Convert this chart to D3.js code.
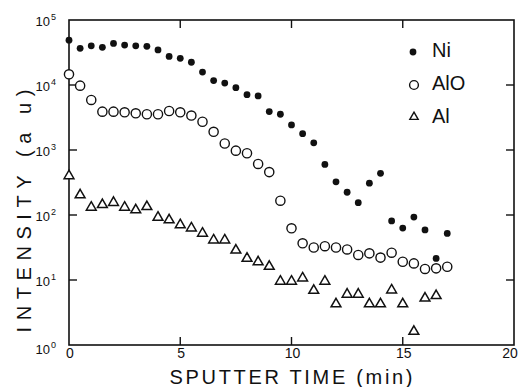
<!DOCTYPE html>
<html><head><meta charset="utf-8">
<script src="https://cdn.jsdelivr.net/npm/d3@7"></script>
<style>
html,body{margin:0;padding:0;background:#fff;}
svg{display:block;}
text{font-family:"Liberation Sans",Arial,sans-serif;fill:#111;}
</style></head>
<body><svg id="c" width="519" height="387"></svg>
<script>
const timesNi = [0,0.5,1,1.5,2,2.5,3,3.5,4,4.5,5,5.5,6,6.5,7,7.5,8,8.5,9,9.5,10,10.5,11,11.5,12,12.5,13,13.5,14,14.5,15,15.5,16,16.5,17];
const niValues = [49000,36700,40000,38000,43600,41200,40000,39400,34700,27500,25700,22400,15800,11700,10700,9100,7100,6800,3900,3550,2430,1780,1290,600,324,224,155,309,437,81,63,93,59,21.5,52];
const timesAlO = timesNi;
const aloValues = [14600,9770,5890,3890,3890,3800,3670,3550,3550,3980,3800,3390,2720,1905,1260,977,891,610,457,166,62.4,36.7,31.6,33.1,31.6,29.5,24.3,25.7,22.1,26.3,19.1,18.0,14.8,15.1,16.0];
const timesAl = [0,0.5,1,1.5,2,2.5,3,3.5,4,4.5,5,5.5,6,6.5,7,7.5,8,8.5,9,9.5,10,10.5,11,11.5,12,12.5,13,13.5,14,14.5,15,15.5,16,16.5];
const alValues = [412,209,135,148,160,135,123,138,94.4,86.1,72.4,64.6,53.7,42.2,42.2,29.5,22.1,19.5,16.6,9.8,9.8,11.0,7.1,9.8,4.4,6.2,6.2,4.4,4.4,7.2,4.4,1.66,5.4,5.9];
const xTicks = [0,5,10,15,20];
const yExponents = [0,1,2,3,4,5];
const legendLabels = ["Ni","AlO","Al"];
const xTitle = "SPUTTER TIME (min)";
const yTitle = "INTENSITY (a u)";

const svg = d3.select("#c");
const L=69,R=514,T=20,B=345;
const x = d3.scaleLinear().domain([0,20]).range([L,R]);
const y = d3.scaleLog().domain([1,1e5]).range([B,T]);
const ink="#111";

// frame
svg.append("rect").attr("x",L).attr("y",T).attr("width",R-L).attr("height",B-T)
  .attr("fill","none").attr("stroke",ink).attr("stroke-width",1.6);

// ticks (inward)
const tl=8;
xTicks.slice(1,-1).forEach(t=>{
  svg.append("line").attr("x1",x(t)).attr("x2",x(t)).attr("y1",B).attr("y2",B-tl).attr("stroke",ink).attr("stroke-width",1.4);
  svg.append("line").attr("x1",x(t)).attr("x2",x(t)).attr("y1",T).attr("y2",T+tl).attr("stroke",ink).attr("stroke-width",1.4);
});
yExponents.slice(1,-1).forEach(e=>{
  const v=Math.pow(10,e);
  svg.append("line").attr("x1",L).attr("x2",L+tl).attr("y1",y(v)).attr("y2",y(v)).attr("stroke",ink).attr("stroke-width",1.4);
  svg.append("line").attr("x1",R).attr("x2",R-tl).attr("y1",y(v)).attr("y2",y(v)).attr("stroke",ink).attr("stroke-width",1.4);
});

// x tick labels
xTicks.forEach(t=>{
  svg.append("text").attr("x",Math.min(x(t)+1,510)).attr("y",358).attr("text-anchor","middle")
    .attr("font-size",14).text(t);
});
// y tick labels
yExponents.forEach(e=>{
  const v=Math.pow(10,e);
  const by = y(v) + (e===0?9:6);
  const t=svg.append("text").attr("x",50).attr("y",by).attr("text-anchor","end").attr("font-size",13);
  t.append("tspan").text("10");
  svg.append("text").attr("x",51).attr("y",by-6).attr("font-size",9).text(e);
});

// titles
svg.append("text").attr("x",291).attr("y",384).attr("text-anchor","middle").attr("font-size",20)
  .attr("textLength",243).attr("lengthAdjust","spacing").text(xTitle);
svg.append("text").attr("transform","translate(31,211) rotate(-90)").attr("text-anchor","middle").attr("font-size",20)
  .attr("textLength",243).attr("lengthAdjust","spacing").text(yTitle);

// markers
const tri = d3.symbol().type(d3.symbolTriangle).size(42);
svg.append("g").selectAll("path").data(timesAl.map((t,i)=>[t,alValues[i]])).join("path")
  .attr("d",tri).attr("transform",d=>`translate(${x(d[0])},${y(d[1])+0.8})`)
  .attr("fill","#fff").attr("stroke",ink).attr("stroke-width",1.5);
svg.append("g").selectAll("circle").data(timesAlO.map((t,i)=>[t,aloValues[i]])).join("circle")
  .attr("cx",d=>x(d[0])).attr("cy",d=>y(d[1])).attr("r",4.6)
  .attr("fill","#fff").attr("stroke",ink).attr("stroke-width",1.4);
svg.append("g").selectAll("circle").data(timesNi.map((t,i)=>[t,niValues[i]])).join("circle")
  .attr("cx",d=>x(d[0])).attr("cy",d=>y(d[1])).attr("r",3.4).attr("fill",ink);

// legend
const lg = svg.append("g");
lg.append("circle").attr("cx",413).attr("cy",52).attr("r",3.4).attr("fill",ink);
lg.append("circle").attr("cx",414).attr("cy",85).attr("r",4.4).attr("fill","#fff").attr("stroke",ink).attr("stroke-width",1.4);
lg.append("path").attr("d",d3.symbol().type(d3.symbolTriangle).size(30)).attr("transform","translate(414,117)")
  .attr("fill","#fff").attr("stroke",ink).attr("stroke-width",1.4);
[57,90,123].forEach((yy,i)=>{
  lg.append("text").attr("x",432).attr("y",yy).attr("font-size",20).text(legendLabels[i]);
});
</script></body></html>
